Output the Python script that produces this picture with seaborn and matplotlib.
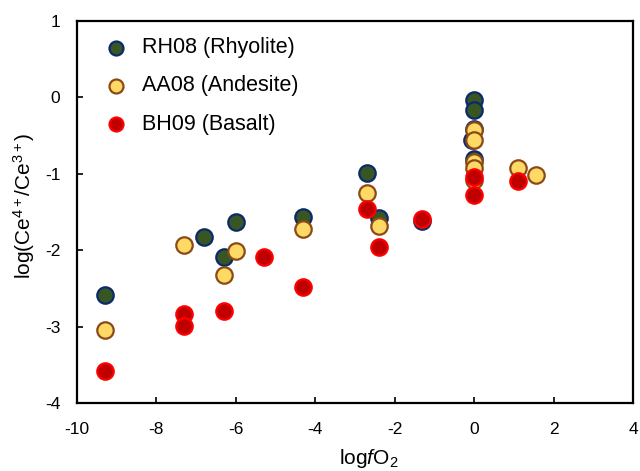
import matplotlib
matplotlib.use("Agg")
import matplotlib.pyplot as plt
import seaborn as sns
import pandas as pd

# Data
rh_x = [-9.3, -6.8, -6.0, -6.3, -4.3, -2.7, -2.4, -1.3, 0.0, 0.0, 0.0, -0.05, 0.0]
rh_y = [-2.58, -1.83, -1.63, -2.09, -1.57, -0.99, -1.58, -1.62, -0.04, -0.16, -0.41, -0.56, -0.80]

aa_x = [-9.3, -7.3, -6.0, -6.3, -4.3, -2.7, -2.4, 0.0, 0.0, 0.0, 0.0, 0.0, 1.1, 1.55]
aa_y = [-3.05, -1.93, -2.01, -2.33, -1.72, -1.25, -1.68, -0.43, -0.56, -0.84, -0.92, -1.08, -0.93, -1.02]

bh_x = [-9.3, -7.3, -7.3, -6.3, -5.3, -4.3, -2.7, -2.4, -1.3, 0.0, 0.0, 1.1]
bh_y = [-3.58, -2.84, -2.99, -2.80, -2.09, -2.48, -1.46, -1.96, -1.59, -1.04, -1.28, -1.10]

labels = ["RH08 (Rhyolite)", "AA08 (Andesite)", "BH09 (Basalt)"]
x_ticks = [-10, -8, -6, -4, -2, 0, 2, 4]
y_ticks = [-4, -3, -2, -1, 0, 1]

sns.set_theme(style="ticks")
plt.rcParams["font.family"] = ["Liberation Sans", "DejaVu Sans"]
plt.rcParams["axes.unicode_minus"] = False
plt.rcParams["mathtext.fontset"] = "custom"
plt.rcParams["mathtext.rm"] = "Liberation Sans"
plt.rcParams["mathtext.it"] = "Liberation Sans:italic"
plt.rcParams["text.color"] = "black"
plt.rcParams["axes.labelcolor"] = "black"

fig = plt.figure(figsize=(6.4, 4.71), dpi=100)
ax = fig.add_axes([0.1203, 0.1444, 0.8687, 0.811])

styles = [
    (rh_x, rh_y, labels[0], "#375623", "#0B2A6B"),
    (aa_x, aa_y, labels[1], "#FFD966", "#8B4A14"),
    (bh_x, bh_y, labels[2], "#C00000", "#FF0000"),
]
for xs, ys, lab, fc, ec in styles:
    df = pd.DataFrame({"x": xs, "y": ys})
    sns.scatterplot(data=df, x="x", y="y", ax=ax, s=140, color=fc,
                    edgecolor=ec, linewidth=1.6, label=lab, zorder=3)

ax.set_xlim(-10, 4)
ax.set_ylim(-4, 1)
ax.set_xticks(x_ticks)
ax.set_yticks(y_ticks)
ax.tick_params(axis="x", direction="in", length=4, width=1.2, labelsize=12.5,
               pad=14, colors="black")
ax.tick_params(axis="y", direction="in", length=4, width=1.2, labelsize=12.5,
               pad=12, colors="black")
for sp in ax.spines.values():
    sp.set_linewidth(1.6)
    sp.set_color("black")

ax.set_xlabel(r"log$\mathit{f}$O$_2$", fontsize=15)
ax.set_ylabel(r"log(Ce$^{4+}$/Ce$^{3+}$)", fontsize=15)
ax.xaxis.set_label_coords(0.525, -0.115)
ax.yaxis.set_label_coords(-0.072, 0.515)

leg = ax.legend(loc="upper left", bbox_to_anchor=(0.035, 0.98), frameon=False,
                fontsize=15.5, markerscale=0.85, handlelength=1.0,
                handletextpad=0.7, labelspacing=0.8, borderaxespad=0)

fig.savefig("out.png", dpi=100)
